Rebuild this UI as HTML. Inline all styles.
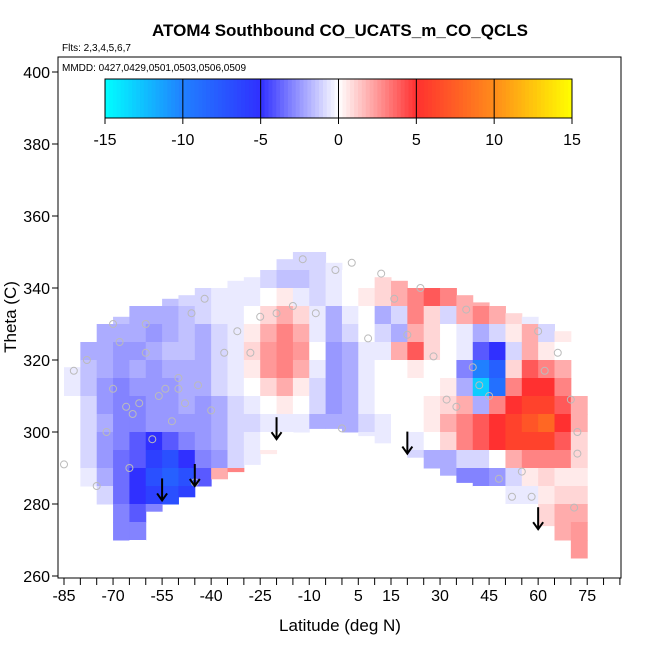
<!DOCTYPE html>
<html><head><meta charset="utf-8"><style>
body{margin:0;background:#fff}
svg text{font-family:"Liberation Sans",sans-serif}
</style></head><body>
<svg id="chart" width="650" height="650" xmlns="http://www.w3.org/2000/svg">
<text x="340" y="36" text-anchor="middle" font-size="17" font-weight="bold">ATOM4 Southbound CO_UCATS_m_CO_QCLS</text>
<text x="62" y="51" font-size="10">Flts: 2,3,4,5,6,7</text>
<g id="cells"></g>
<g id="circles"></g>
<g id="arrows"></g>
<rect x="58" y="57" width="563" height="521" fill="none" stroke="#000"/>
<text x="62" y="71" font-size="10">MMDD: 0427,0429,0501,0503,0506,0509</text>
<g id="cbar"></g>
<g id="axes"></g>
<text x="340" y="631" text-anchor="middle" font-size="17">Latitude (deg N)</text>
<text transform="translate(16,317) rotate(-90)" text-anchor="middle" font-size="17">Theta (C)</text>
</svg>
<script>
const latBins=[-85,-80,-75,-70,-65,-60,-55,-50,-45,-40,-35,-30,-25,-20,-15,-10,-5,0,5,10,15,20,25,30,35,40,45,50,55,60,65,70];
const thetaBins=[345,340,335,330,325,320,315,310,305,300,295,290,285,280,275,270,265];
const topTheta=[318,325,330,332,335,335,337,338,340,340,342,343,345,348,350,350,347,345,345,343,342,340,340,340,338,336,335,333,332,330,328,310];
const bottomTheta=[290,285,280,270,268,278,280,282,285,287,289,291,294,297,300,301,301,300,299,297,295,293,290,288,286,284,282,279,276,274,270,265];
const values=[
[0,0,0,0,0,0,0,0,0,0,0,0,-0.5,-1,-1,-1,-0.5,0,0,0,0,0,0,0,0,0,0,0,0,0,0,0],
[0,0,0,0,-0.5,-0.5,-0.5,-0.5,-0.5,-0.5,-0.5,-0.5,-1,-1.5,-1.5,-1,-0.5,0,0,1,2,3,3,3,2,1,0,0,0,0,0,0],
[-0.5,-0.5,-1,-1,-1.5,-1.5,-1.5,-1,-1,-0.5,-0.5,-0.5,0,0.5,-0.5,-1,-0.5,0,0.5,1,2,3,4,3,2,2,2,1,0,0,0,0],
[-1,-1,-1,-1.5,-2,-2,-2,-1.5,-1,-0.5,-0.5,0,1,2,1,-0.5,-2,-0.5,0,-2,-1,3,1,-1,2,3,2,1,-0.5,0.5,1,0],
[-0.5,-1,-2,-2,-2,-2.5,-2,-1.5,-2,-1,-0.5,0.5,2,3,2,-0.5,-2,-1,0,-1,-2,2,1,0,-0.5,-2,-1,0.5,2,-1,0.5,0],
[-0.5,-2,-2,-2.5,-2.5,-2,-1.5,-1.5,-2,-1,-0.5,1,2.5,3,2.5,0,-2.5,-2,-0.5,-0.5,2,4,1,0,-0.5,-4,-5,-1,2,0.5,0,0],
[-0.5,-1.5,-2,-2.5,-2,-2.5,-2,-2,-2,-1,-0.5,0.5,2.5,3,2,-0.5,-2.5,-2,-0.5,0,0,0.5,0,0,-3,-10,-8,1,4,3,2,0.5],
[-0.5,-1.5,-2.5,-3,-2.5,-2.5,-2.5,-2,-2,-1,-0.5,0,1,2,0.5,-1,-2.5,-2,-0.5,0,0,0,0,0.5,-2,-13,-9,3,5,5,3,1],
[0,-1,-2.5,-3,-3,-2.5,-2.5,-2,-2.5,-2,-1,-0.5,0,0.5,0,-1,-2.5,-2,-0.5,0,0,0,0.5,1,2,-2,3,5,6,6,4,2],
[0,-1,-2,-3,-3,-2.5,-2.5,-2.5,-2.5,-2,-1,-1,-0.5,-0.5,-0.5,-2,-2,-2,-1,-0.5,0,0,0.5,2,3,4,5,6,7,8,5,2],
[0,-1,-2.5,-3,-4,-5,-4,-3,-2.5,-2,-1,-0.5,0,0,-0.5,-1,-1,-1,-0.5,-0.5,0,-0.5,0,1,3,4,5,6,6,6,4,1],
[0,-1,-2.5,-3.5,-4,-6,-7,-5,-3,-2.5,-1,-0.5,0.5,0,0,0,0,0,0,0,-0.5,-1,-2,-2,-1,-1,0,2,3,3,3,1],
[0,-0.5,-2,-3.5,-5,-7,-8,-7,-4,2,3,1,0,0,0,0,0,0,0,0,0,0,0,-2,-3,-3,-2.5,-1,0.5,1,0.5,0.5],
[0,0,-1,-3.5,-5,-6,-7,-6,-3,0,0,0,0,0,0,0,0,0,0,0,0,0,0,0,0,0,0,-0.5,-0.5,0.5,1,1],
[0,0,0,-3,-4,-3,0,0,0,0,0,0,0,0,0,0,0,0,0,0,0,0,0,0,0,0,0,0,0,1,2,2],
[0,0,0,-3,-3,0,0,0,0,0,0,0,0,0,0,0,0,0,0,0,0,0,0,0,0,0,0,0,0,1,2,2.5],
[0,0,0,0,0,0,0,0,0,0,0,0,0,0,0,0,0,0,0,0,0,0,0,0,0,0,0,0,0,0,2,2.5]];
const yTicks=[260,280,300,320,340,360,380,400];
const xTickLabels=[-85,-70,-55,-40,-25,-10,5,15,30,45,60,75];
const cbTicks=[-15,-10,-5,0,5,10,15];
const pointLat=[-85,-82,-78,-75,-72,-70,-68,-66,-64,-62,-60,-58,-56,-54,-52,-50,-48,-46,-44,-42,-40,-36,-32,-28,-25,-20,-15,-12,-8,-2,0,3,8,12,16,20,24,28,32,35,38,42,45,48,52,55,58,62,66,70,72,72,71,-60,-50,-45,-70,-65,40,60];
const pointTheta=[291,317,320,285,300,330,325,307,305,308,322,298,310,312,303,312,308,333,313,337,306,322,328,322,332,333,335,348,333,345,301,347,326,344,337,327,340,321,309,307,334,313,310,287,282,289,282,317,322,309,300,294,279,330,315,286,312,290,318,328];
const arrowLat=[-55,-45,-20,20,60];
const arrowTheta=[281,285,298,294,273];

const ns="http://www.w3.org/2000/svg";
const X=l=>64+(l+85)*3.27, Y=t=>576-(t-260)*3.6;
const stops=[[-15,[0,255,255]],[-10,[32,128,255]],[-5,[48,48,255]],[0,[255,255,255]],[5,[255,48,48]],[10,[255,140,26]],[15,[255,255,0]]];
function col(v){v=Math.max(-15,Math.min(15,v));for(let i=0;i<stops.length-1;i++){const a=stops[i],b=stops[i+1];if(v<=b[0]){const f=(v-a[0])/(b[0]-a[0]);return 'rgb('+a[1].map((c,k)=>Math.round(c+(b[1][k]-c)*f)).join(',')+')';}}}
function mk(tag,attrs,parent){const e=document.createElementNS(ns,tag);for(const k in attrs)e.setAttribute(k,attrs[k]);parent.appendChild(e);return e;}
const cells=document.getElementById('cells');
thetaBins.forEach((t,r)=>latBins.forEach((l,c)=>{
  const lo=Math.max(t,bottomTheta[c]),hi=Math.min(t+5,topTheta[c]);
  if(hi<=lo)return;
  const e=mk('rect',{x:X(l),y:Y(hi),width:X(l+5)-X(l)+0.5,height:Y(lo)-Y(hi)+0.5,fill:col(values[r][c])},cells);
  
  
}));
const circ=document.getElementById('circles');
pointLat.forEach((l,i)=>{const e=mk('circle',{cx:X(l),cy:Y(pointTheta[i]),r:3.5,fill:'none',stroke:'#bbb'},circ);
  
  });
const arr=document.getElementById('arrows');
arrowLat.forEach((l,i)=>{const x=X(l),y=Y(arrowTheta[i]);const g=mk('g',{},arr);
  
  
  mk('line',{x1:x,y1:y-22,x2:x,y2:y,stroke:'#000','stroke-width':2},g);
  mk('path',{d:`M${x-5},${y-7} L${x},${y} L${x+5},${y-7}`,fill:'none',stroke:'#000','stroke-width':2},g);});
const cb=document.getElementById('cbar');const cx=v=>105+(v+15)/30*467;
for(let v=-15;v<15;v+=0.25){mk('rect',{x:cx(v),y:79,width:467/120+0.5,height:39,fill:col(v+0.125)},cb);}
mk('rect',{x:105,y:79,width:467,height:39,fill:'none',stroke:'#000'},cb);
cbTicks.forEach(v=>{mk('line',{x1:cx(v),y1:79,x2:cx(v),y2:124,stroke:'#000'},cb);
  const t=mk('text',{x:cx(v),y:145,'text-anchor':'middle','font-size':16},cb);t.textContent=v;
  
  });
const ax=document.getElementById('axes');
yTicks.forEach(v=>{mk('line',{x1:52,y1:Y(v),x2:58,y2:Y(v),stroke:'#000'},ax);
  const t=mk('text',{x:50,y:Y(v)+6,'text-anchor':'end','font-size':16},ax);t.textContent=v;
  
  });
for(let l=-85;l<=85;l+=5){mk('line',{x1:X(l),y1:578,x2:X(l),y2:585,stroke:'#000'},ax);}
xTickLabels.forEach(v=>{const t=mk('text',{x:X(v),y:601,'text-anchor':'middle','font-size':16},ax);t.textContent=v;
  
  });
</script>
</body></html>
